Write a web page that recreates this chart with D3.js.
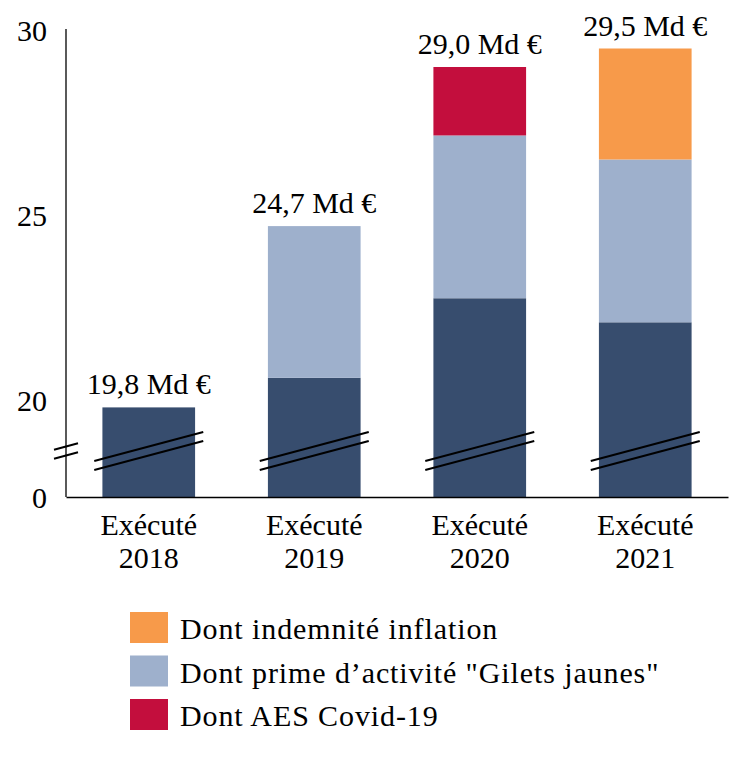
<!DOCTYPE html>
<html>
<head>
<meta charset="utf-8">
<script src="https://cdn.jsdelivr.net/npm/d3@7"></script>
<style>
  body { margin: 0; background: #fff; }
  svg text { font-family: "Palatino Linotype", "Book Antiqua", Palatino, "Liberation Serif", serif; fill: #000; }
</style>
</head>
<body>
<svg id="chart" width="743" height="768"></svg>
<script>
const categories = ["2018", "2019", "2020", "2021"];
const catPrefix = "Exécuté";
const baseValues = [19.8, 20.6, 22.75, 22.1];
const giletsValues = [0, 4.1, 4.4, 4.4];
const covidValues = [0, 0, 1.85, 0];
const inflationValues = [0, 0, 0, 3.0];
const totalLabels = ["19,8 Md €", "24,7 Md €", "29,0 Md €", "29,5 Md €"];
const yTicks = [0, 20, 25, 30];
const seriesNames = ["Base", "Dont prime d’activité \"Gilets jaunes\"", "Dont AES Covid-19", "Dont indemnité inflation"];
const legendOrder = [3, 1, 2];
const colors = ["#374d6e", "#9eb0cc", "#c30e3d", "#f79a4a"];

const svg = d3.select("#chart");
const FS = 30;
const x = d3.scaleBand().domain(categories).range([66, 728]).paddingInner(0.44).paddingOuter(0.22);
// broken scale: 0 at the bottom, linear above the break
const y = d3.scaleLinear().domain([0, 17.5, 30]).range([497, 492.5, 30]);

const rows = categories.map((c, i) => ({ cat: c, vals: [baseValues[i], giletsValues[i], covidValues[i], inflationValues[i]] }));
const keys = [0, 1, 2, 3];
const stack = d3.stack().keys(keys).value((d, k) => d.vals[k]);
const stacked = stack(rows);

stacked.forEach((layer, k) => {
  svg.append("g").attr("fill", colors[k])
    .selectAll("rect").data(layer.filter(d => d[1] - d[0] > 0)).join("rect")
    .attr("x", d => x(d.data.cat))
    .attr("width", x.bandwidth())
    .attr("y", d => y(d[1]))
    .attr("height", d => y(d[0]) - y(d[1]));
});

// totals labels
const totals = rows.map(r => d3.sum(r.vals));
svg.append("g").selectAll("text").data(categories).join("text")
  .attr("x", d => x(d) + x.bandwidth() / 2)
  .attr("y", (d, i) => y(totals[i]) - 13)
  .attr("text-anchor", "middle")
  .attr("font-size", FS)
  .text((d, i) => totalLabels[i]);

// Y axis
const yAxis = svg.append("g").attr("transform", "translate(66,0)")
  .call(d3.axisLeft(y).tickValues(yTicks).tickSize(0).tickPadding(19).tickFormat(d3.format("d")));
yAxis.attr("font-family", null).attr("font-size", null);
yAxis.select(".domain").attr("stroke", "#000").attr("stroke-width", 1.3).attr("d", `M0,${y(0)}V${y(30) - 1}`);
yAxis.selectAll("text").attr("font-size", FS).attr("dy", "0.35em");

// X axis
const xAxis = svg.append("g").attr("transform", `translate(0,${y(0)})`)
  .call(d3.axisBottom(x).tickSize(0).tickFormat(""));
xAxis.select(".domain").attr("stroke", "#000").attr("stroke-width", 1.5);
const xl = svg.append("g").selectAll("text").data(categories).join("text")
  .attr("text-anchor", "middle")
  .attr("font-size", FS)
  .attr("x", d => x(d) + x.bandwidth() / 2)
  .attr("y", y(0) + 38);
xl.append("tspan").attr("x", d => x(d) + x.bandwidth() / 2).text(catPrefix);
xl.append("tspan").attr("x", d => x(d) + x.bandwidth() / 2).attr("dy", 33).text(d => d);

// break marks
const breakMid = 451;
const slope = -29 / 109;
function breakLines(cx, half) {
  [-4.5, 4.5].forEach(off => {
    svg.append("line")
      .attr("x1", cx - half).attr("y1", breakMid + off - slope * half)
      .attr("x2", cx + half).attr("y2", breakMid + off + slope * half)
      .attr("stroke", "#000").attr("stroke-width", 2);
  });
}
categories.forEach(c => breakLines(x(c) + x.bandwidth() / 2, 54.5));
breakLines(66, 12);

// legend
const lg = svg.append("g");
legendOrder.forEach((k, i) => {
  const yy = 612 + i * 43.5;
  lg.append("rect").attr("x", 130).attr("y", yy).attr("width", 38).attr("height", 31).attr("fill", colors[k]);
  lg.append("text").attr("x", 180).attr("y", yy + 27).attr("font-size", FS).attr("letter-spacing", 0.9).text(seriesNames[k]);
});
</script>
</body>
</html>
